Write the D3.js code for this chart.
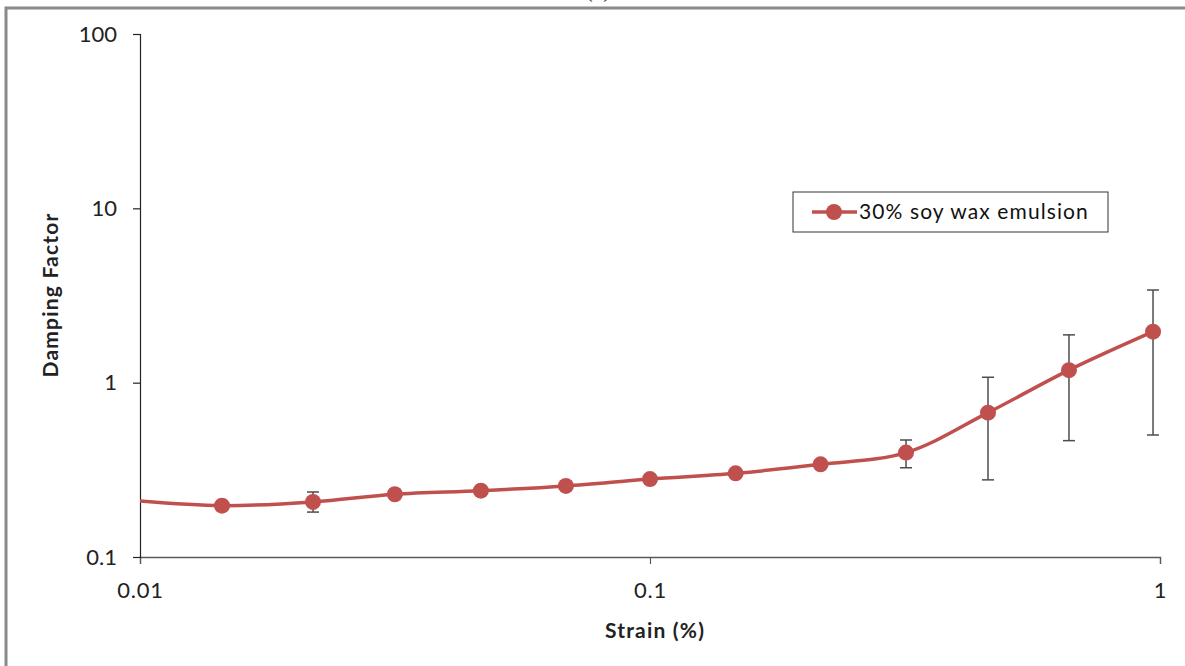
<!DOCTYPE html>
<html>
<head>
<meta charset="utf-8">
<script src="https://cdn.jsdelivr.net/npm/d3@7"></script>
<style>
  html, body { margin: 0; padding: 0; background: #fff; }
  svg { display: block; }
</style>
</head>
<body>
<svg id="chart" width="1185" height="666"></svg>
<script>
// ---- data ----
const strain   = [0.00988, 0.01448, 0.02184, 0.0316, 0.0466, 0.0684, 0.1, 0.1472, 0.216, 0.3177, 0.46, 0.663, 0.969];
const damping  = [0.210, 0.197, 0.207, 0.229, 0.240, 0.2556, 0.280, 0.302, 0.340, 0.397, 0.673, 1.18, 1.96];
const errLow   = [null, null, 0.181, null, null, null, null, null, null, 0.325, 0.277, 0.465, 0.501];
const errHigh  = [null, null, 0.236, null, null, null, null, null, null, 0.469, 1.074, 1.88, 3.40];
const xTicks   = [0.01, 0.1, 1];
const xTickLabels = ["0.01", "0.1", "1"];
const yTicks   = [0.1, 1, 10, 100];
const yTickLabels = ["0.1", "1", "10", "100"];
const seriesName = "30% soy wax emulsion";

const svg = d3.select("#chart");
const FONT = "Lato, 'Open Sans', sans-serif";
const RED = "#C0504D";

// outer frame
svg.append("rect").attr("x", 6).attr("y", 8).attr("width", 1300).attr("height", 800)
  .attr("fill", "none").attr("stroke", "#8a8a8a").attr("stroke-width", 3);
// title (mostly cut off at top, as in the original)
svg.append("text").attr("x", 598).attr("y", -3).attr("text-anchor", "middle")
  .attr("font-family", "'Liberation Serif', serif").attr("font-size", 24).attr("fill", "#333").text("(c)");

const x = d3.scaleLog().domain([0.01, 1]).range([140, 1160]);
const y = d3.scaleLog().domain([0.1, 100]).range([557, 34]);

// clip
svg.append("defs").append("clipPath").attr("id", "plotclip")
  .append("rect").attr("x", 140).attr("y", 20).attr("width", 1030).attr("height", 545);

// x axis
const xAxis = d3.axisBottom(x).tickValues(xTicks).tickFormat((d, i) => xTickLabels[i]).tickSizeOuter(0).tickSize(7).tickPadding(18);
const gx = svg.append("g").attr("transform", "translate(0,557)").call(xAxis);
gx.select(".domain").attr("stroke", "#595959").attr("stroke-width", 1.3);
gx.selectAll(".tick line").attr("stroke", "#595959").attr("stroke-width", 1.2);
gx.selectAll("text").attr("font-family", FONT).attr("font-size", 22).attr("letter-spacing", 0.8).attr("fill", "#222");

// y axis
const yAxis = d3.axisLeft(y).tickValues(yTicks).tickFormat((d, i) => yTickLabels[i]).tickSizeOuter(0).tickSize(7).tickPadding(16);
const gy = svg.append("g").attr("transform", "translate(140,0)").call(yAxis);
gy.select(".domain").attr("stroke", "#222").attr("stroke-width", 1.2);
gy.selectAll(".tick line").attr("stroke", "#222").attr("stroke-width", 1.2);
gy.selectAll("text").attr("font-family", FONT).attr("font-size", 22).attr("fill", "#222");

// axis titles
svg.append("text").attr("x", 655).attr("y", 638).attr("text-anchor", "middle")
  .attr("font-family", FONT).attr("font-weight", "bold").attr("font-size", 21).attr("letter-spacing", 1.2)
  .attr("fill", "#222").text("Strain (%)");
svg.append("text").attr("transform", "translate(58,295) rotate(-90)").attr("text-anchor", "middle")
  .attr("font-family", FONT).attr("font-weight", "bold").attr("font-size", 21).attr("letter-spacing", 1.2)
  .attr("fill", "#222").text("Damping Factor");

const pts = strain.map((s, i) => ({ s, d: damping[i], lo: errLow[i], hi: errHigh[i] }));
const plot = svg.append("g").attr("clip-path", "url(#plotclip)");

// error bars
const eb = plot.selectAll("g.err").data(pts.filter(p => p.lo != null)).enter().append("g");
eb.append("line").attr("x1", p => x(p.s)).attr("x2", p => x(p.s)).attr("y1", p => y(p.lo)).attr("y2", p => y(p.hi))
  .attr("stroke", "#4d4d4d").attr("stroke-width", 1.5);
eb.append("line").attr("x1", p => x(p.s) - 6).attr("x2", p => x(p.s) + 6).attr("y1", p => y(p.lo)).attr("y2", p => y(p.lo))
  .attr("stroke", "#4d4d4d").attr("stroke-width", 1.5);
eb.append("line").attr("x1", p => x(p.s) - 6).attr("x2", p => x(p.s) + 6).attr("y1", p => y(p.hi)).attr("y2", p => y(p.hi))
  .attr("stroke", "#4d4d4d").attr("stroke-width", 1.5);

// line
const line = d3.line().x(p => x(p.s)).y(p => y(p.d)).curve(d3.curveCatmullRom.alpha(0.5));
plot.append("path").datum(pts).attr("d", line).attr("fill", "none").attr("stroke", RED).attr("stroke-width", 3.5);

// markers (only those inside the axis range are drawn)
plot.selectAll("circle.m").data(pts.filter(p => p.s >= x.domain()[0])).enter().append("circle")
  .attr("cx", p => x(p.s)).attr("cy", p => y(p.d)).attr("r", 8).attr("fill", RED);

// legend
const lg = svg.append("g");
lg.append("rect").attr("x", 793).attr("y", 192).attr("width", 315).attr("height", 40)
  .attr("fill", "#fff").attr("stroke", "#333").attr("stroke-width", 1);
lg.append("line").attr("x1", 812).attr("x2", 857).attr("y1", 212).attr("y2", 212).attr("stroke", RED).attr("stroke-width", 3.5);
lg.append("circle").attr("cx", 834).attr("cy", 212).attr("r", 8).attr("fill", RED);
lg.append("text").attr("x", 859).attr("y", 219).attr("font-family", FONT).attr("font-size", 21).attr("letter-spacing", 1.1)
  .attr("fill", "#111").text(seriesName);
</script>
</body>
</html>
